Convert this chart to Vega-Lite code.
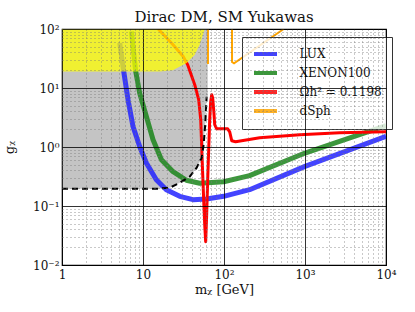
{
  "$schema": "https://vega.github.io/schema/vega-lite/v6.json",
  "autosize": "none",
  "width": 324,
  "height": 236,
  "padding": {"left": 62, "top": 29, "right": 29, "bottom": 47},
  "background": "white",
  "config": {
    "font": "DejaVu Serif",
    "view": {"stroke": "black", "strokeWidth": 1.2},
    "title": {"font": "DejaVu Serif", "fontSize": 15, "fontWeight": "normal", "color": "#111", "offset": -2},
    "axis": {"labelFont": "DejaVu Serif", "titleFont": "DejaVu Serif", "labelFontSize": 12, "titleFontSize": 13, "titleFontWeight": "normal", "labelColor": "#111", "titleColor": "#111"},
    "legend": {"labelFont": "DejaVu Serif"}
  },
  "title": {"text": "Dirac DM, SM Yukawas"},
  "datasets": {
    "gray": [
      {"x": 1, "lo": 0.196, "hi": 100},
      {"x": 14.8, "lo": 0.196, "hi": 100},
      {"x": 21.4, "lo": 0.204, "hi": 100},
      {"x": 28.4, "lo": 0.248, "hi": 100},
      {"x": 37.7, "lo": 0.314, "hi": 100},
      {"x": 46, "lo": 0.446, "hi": 100},
      {"x": 53, "lo": 0.66, "hi": 100},
      {"x": 56.1, "lo": 1.09, "hi": 100},
      {"x": 58.6, "lo": 2.39, "hi": 100},
      {"x": 61.1, "lo": 7.1, "hi": 100},
      {"x": 63, "lo": 7.1, "hi": 100}
    ],
    "yellow": [
      {"x": 1, "lo": 19.1, "hi": 100},
      {"x": 16.1, "lo": 19.1, "hi": 100},
      {"x": 23.3, "lo": 20, "hi": 100},
      {"x": 34.6, "lo": 26.5, "hi": 100},
      {"x": 43.5, "lo": 36.6, "hi": 100},
      {"x": 50.1, "lo": 54.2, "hi": 100},
      {"x": 55, "lo": 80, "hi": 100},
      {"x": 57.8, "lo": 100, "hi": 100}
    ],
    "dashed": [
      {"x": 1, "y": 0.196},
      {"x": 14.8, "y": 0.196},
      {"x": 21.4, "y": 0.204},
      {"x": 28.4, "y": 0.248},
      {"x": 37.7, "y": 0.314},
      {"x": 46, "y": 0.446},
      {"x": 53, "y": 0.66},
      {"x": 56.1, "y": 1.09},
      {"x": 58.6, "y": 2.39},
      {"x": 61.1, "y": 7.1}
    ],
    "curves": [
      {"series": "LUX", "seg": "a", "x": 5.16, "y": 57.9},
      {"series": "LUX", "seg": "a", "x": 5.78, "y": 19.1},
      {"series": "LUX", "seg": "a", "x": 6.53, "y": 6.34},
      {"series": "LUX", "seg": "a", "x": 7.53, "y": 2.23},
      {"series": "LUX", "seg": "a", "x": 9.1, "y": 1.02},
      {"series": "LUX", "seg": "a", "x": 11.0, "y": 0.536},
      {"series": "LUX", "seg": "a", "x": 14.6, "y": 0.279},
      {"series": "LUX", "seg": "a", "x": 19.4, "y": 0.189},
      {"series": "LUX", "seg": "a", "x": 28.4, "y": 0.146},
      {"series": "LUX", "seg": "a", "x": 41.4, "y": 0.128},
      {"series": "LUX", "seg": "a", "x": 60.6, "y": 0.131},
      {"series": "LUX", "seg": "a", "x": 99, "y": 0.146},
      {"series": "LUX", "seg": "a", "x": 207, "y": 0.189},
      {"series": "LUX", "seg": "a", "x": 1000, "y": 0.469},
      {"series": "LUX", "seg": "a", "x": 10000, "y": 1.51},
      {"series": "XENON100", "seg": "a", "x": 7.19, "y": 91},
      {"series": "XENON100", "seg": "a", "x": 8.13, "y": 19.1},
      {"series": "XENON100", "seg": "a", "x": 9.1, "y": 8.2},
      {"series": "XENON100", "seg": "a", "x": 11.0, "y": 3.3},
      {"series": "XENON100", "seg": "a", "x": 13.3, "y": 1.33},
      {"series": "XENON100", "seg": "a", "x": 16.9, "y": 0.61},
      {"series": "XENON100", "seg": "a", "x": 23.5, "y": 0.381},
      {"series": "XENON100", "seg": "a", "x": 34.3, "y": 0.273},
      {"series": "XENON100", "seg": "a", "x": 50.1, "y": 0.243},
      {"series": "XENON100", "seg": "a", "x": 99, "y": 0.258},
      {"series": "XENON100", "seg": "a", "x": 207, "y": 0.327},
      {"series": "XENON100", "seg": "a", "x": 1000, "y": 0.79},
      {"series": "XENON100", "seg": "a", "x": 10000, "y": 2.3},
      {"series": "Ωh² = 0.1198", "seg": "a", "x": 15.4, "y": 100},
      {"series": "Ωh² = 0.1198", "seg": "a", "x": 23.5, "y": 54.2},
      {"series": "Ωh² = 0.1198", "seg": "a", "x": 31.2, "y": 34.4},
      {"series": "Ωh² = 0.1198", "seg": "a", "x": 35.6, "y": 24.8},
      {"series": "Ωh² = 0.1198", "seg": "a", "x": 43.5, "y": 11.4},
      {"series": "Ωh² = 0.1198", "seg": "a", "x": 48.7, "y": 6.33},
      {"series": "Ωh² = 0.1198", "seg": "a", "x": 51.6, "y": 2.9},
      {"series": "Ωh² = 0.1198", "seg": "a", "x": 53.1, "y": 0.97},
      {"series": "Ωh² = 0.1198", "seg": "a", "x": 54.6, "y": 0.34},
      {"series": "Ωh² = 0.1198", "seg": "a", "x": 56.1, "y": 0.128},
      {"series": "Ωh² = 0.1198", "seg": "a", "x": 57.8, "y": 0.048},
      {"series": "Ωh² = 0.1198", "seg": "a", "x": 59.4, "y": 0.0248},
      {"series": "Ωh² = 0.1198", "seg": "a", "x": 61.1, "y": 0.071},
      {"series": "Ωh² = 0.1198", "seg": "a", "x": 62.9, "y": 0.28},
      {"series": "Ωh² = 0.1198", "seg": "a", "x": 64.7, "y": 0.9},
      {"series": "Ωh² = 0.1198", "seg": "a", "x": 66.6, "y": 2.9},
      {"series": "Ωh² = 0.1198", "seg": "a", "x": 68.5, "y": 5.8},
      {"series": "Ωh² = 0.1198", "seg": "a", "x": 70.5, "y": 7.7},
      {"series": "Ωh² = 0.1198", "seg": "a", "x": 72.5, "y": 6.8},
      {"series": "Ωh² = 0.1198", "seg": "a", "x": 74.6, "y": 4.3},
      {"series": "Ωh² = 0.1198", "seg": "a", "x": 76.8, "y": 2.4},
      {"series": "Ωh² = 0.1198", "seg": "a", "x": 81.2, "y": 2.03},
      {"series": "Ωh² = 0.1198", "seg": "a", "x": 111, "y": 2.03},
      {"series": "Ωh² = 0.1198", "seg": "a", "x": 117.6, "y": 1.81},
      {"series": "Ωh² = 0.1198", "seg": "a", "x": 124.5, "y": 1.28},
      {"series": "Ωh² = 0.1198", "seg": "a", "x": 139, "y": 1.23},
      {"series": "Ωh² = 0.1198", "seg": "a", "x": 276, "y": 1.44},
      {"series": "Ωh² = 0.1198", "seg": "a", "x": 861, "y": 1.61},
      {"series": "Ωh² = 0.1198", "seg": "a", "x": 2685, "y": 1.75},
      {"series": "Ωh² = 0.1198", "seg": "a", "x": 10000, "y": 1.82},
      {"series": "dSph", "seg": "a", "x": 63.4, "y": 100},
      {"series": "dSph", "seg": "a", "x": 63.4, "y": 25.5},
      {"series": "dSph", "seg": "b", "x": 125.5, "y": 100},
      {"series": "dSph", "seg": "b", "x": 125.7, "y": 27.6},
      {"series": "dSph", "seg": "b", "x": 133, "y": 26.2},
      {"series": "dSph", "seg": "b", "x": 546, "y": 100}
    ]
  },
  "encoding": {
    "x": {"field": "x", "type": "quantitative",
      "scale": {"type": "log", "domain": [1, 10000], "nice": false},
      "axis": {
        "title": "mᵪ [GeV]", "titlePadding": 3, "labelPadding": 4,
        "zindex": 1, "ticks": false, "domain": false, "labelFlush": false, "labelOverlap": false, "labelBound": false,
        "values": [1,2,3,4,5,6,7,8,9,10,20,30,40,50,60,70,80,90,100,200,300,400,500,600,700,800,900,1000,2000,3000,4000,5000,6000,7000,8000,9000,10000],
        "labelExpr": "datum.value == 1 ? '1' : datum.value == 10 ? '10' : datum.value == 100 ? '10²' : datum.value == 1000 ? '10³' : datum.value == 10000 ? '10⁴' : ''",
        "gridColor": {"condition": {"test": "abs(log(datum.value)/LN10 - round(log(datum.value)/LN10)) < 1e-6", "value": "#000000"}, "value": "#777777"},
        "gridDash": {"condition": {"test": "abs(log(datum.value)/LN10 - round(log(datum.value)/LN10)) < 1e-6", "value": []}, "value": [1, 3]},
        "gridWidth": 0.8, "gridOpacity": 1
      }
    },
    "y": {"field": "y", "type": "quantitative",
      "scale": {"type": "log", "domain": [0.01, 100], "nice": false},
      "axis": {
        "title": "gᵪ", "titlePadding": 16, "labelPadding": 3,
        "zindex": 1, "ticks": false, "domain": false, "labelFlush": false, "labelOverlap": false, "labelBound": false,
        "values": [0.01,0.02,0.03,0.04,0.05,0.06,0.07,0.08,0.09,0.1,0.2,0.3,0.4,0.5,0.6,0.7,0.8,0.9,1,2,3,4,5,6,7,8,9,10,20,30,40,50,60,70,80,90,100],
        "labelExpr": "datum.value == 0.01 ? '10⁻²' : datum.value == 0.1 ? '10⁻¹' : datum.value == 1 ? '10⁰' : datum.value == 10 ? '10¹' : datum.value == 100 ? '10²' : ''",
        "gridColor": {"condition": {"test": "abs(log(datum.value)/LN10 - round(log(datum.value)/LN10)) < 1e-6", "value": "#000000"}, "value": "#777777"},
        "gridDash": {"condition": {"test": "abs(log(datum.value)/LN10 - round(log(datum.value)/LN10)) < 1e-6", "value": []}, "value": [1, 3]},
        "gridWidth": 0.8, "gridOpacity": 1
      }
    }
  },
  "layer": [
    {
      "data": {"name": "gray"},
      "mark": {"type": "area", "color": "#c4c4c4", "clip": true},
      "encoding": {"y": {"field": "lo", "type": "quantitative"}, "y2": {"field": "hi"}}
    },
    {
      "data": {"name": "curves"},
      "transform": [{"filter": "datum.series == 'LUX' || datum.series == 'XENON100'"}],
      "mark": {"type": "line", "strokeWidth": 5, "opacity": 0.85, "clip": true, "strokeJoin": "round"},
      "encoding": {
        "color": {"field": "series", "type": "nominal"},
        "detail": {"field": "seg"},
        "order": {"value": null}
      }
    },
    {
      "data": {"name": "curves"},
      "transform": [{"filter": "datum.series == 'Ωh² = 0.1198'"}],
      "mark": {"type": "line", "strokeWidth": 3, "clip": true, "strokeJoin": "round"},
      "encoding": {
        "color": {"field": "series", "type": "nominal"},
        "detail": {"field": "seg"},
        "order": {"value": null}
      }
    },
    {
      "data": {"name": "yellow"},
      "mark": {"type": "area", "color": "#ffff00", "opacity": 0.75, "clip": true},
      "encoding": {"y": {"field": "lo", "type": "quantitative"}, "y2": {"field": "hi"}}
    },
    {
      "data": {"name": "curves"},
      "transform": [{"filter": "datum.series == 'dSph'"}],
      "mark": {"type": "line", "strokeWidth": 2, "clip": true},
      "encoding": {
        "color": {"field": "series", "type": "nominal",
          "scale": {"domain": ["LUX", "XENON100", "Ωh² = 0.1198", "dSph"], "range": ["#2222ff", "#1a851a", "#ff0000", "#ffa500"]},
          "legend": {
            "title": null, "orient": "none", "legendX": 180, "legendY": 8,
            "symbolType": "M-2.3,0H2.3", "symbolSize": 100, "symbolStrokeWidth": 4, "symbolOpacity": 0.85, "symbolOffset": 6.5,
            "labelFontSize": 12, "labelOffset": 27, "rowPadding": 3, "padding": 10,
            "fillColor": "rgba(255,255,255,0.8)", "strokeColor": "#333333", "labelColor": "#111"
          }
        },
        "detail": {"field": "seg"},
        "order": {"value": null}
      }
    },
    {
      "data": {"name": "dashed"},
      "mark": {"type": "line", "color": "black", "strokeWidth": 2, "strokeDash": [6, 4], "clip": true},
      "encoding": {}
    }
  ]
}
